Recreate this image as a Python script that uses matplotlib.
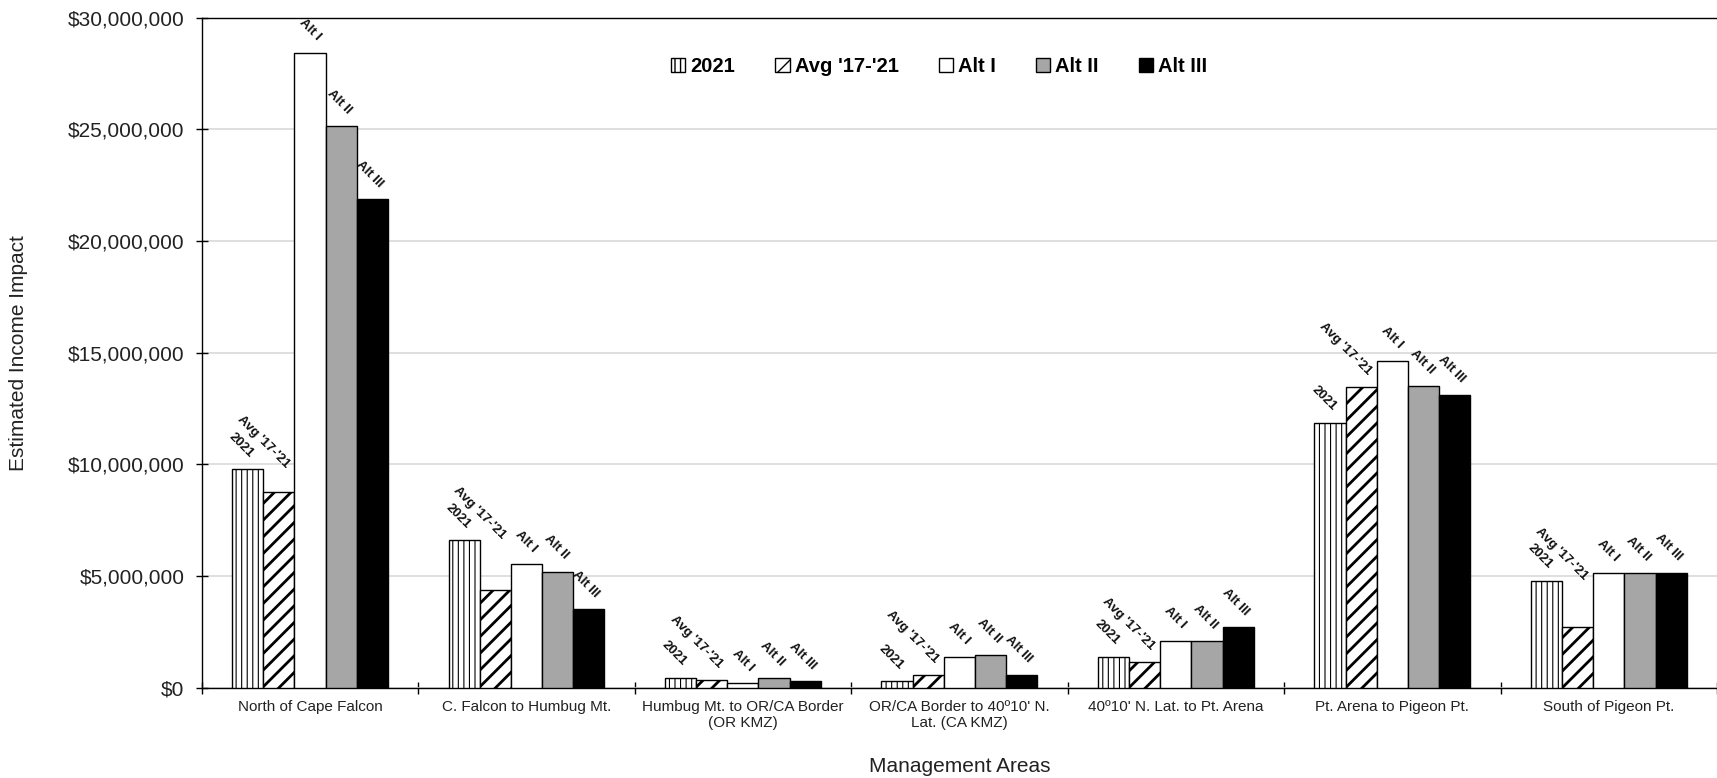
import numpy as np
import matplotlib
matplotlib.use("Agg")
import matplotlib.pyplot as plt
from matplotlib.ticker import FuncFormatter, FixedLocator

plt.rcParams['font.family'] = ['Liberation Sans', 'DejaVu Sans']

# Data
areas = ["North of Cape Falcon", "C. Falcon to Humbug Mt.",
         "Humbug Mt. to OR/CA Border\n(OR KMZ)",
         "OR/CA Border to 40º10' N.\nLat. (CA KMZ)",
         "40º10' N. Lat. to Pt. Arena", "Pt. Arena to Pigeon Pt.",
         "South of Pigeon Pt."]
series = ["2021", "Avg '17-'21", "Alt I", "Alt II", "Alt III"]
v2021 = [9.78e6, 6.60e6, 0.45e6, 0.28e6, 1.37e6, 11.85e6, 4.77e6]
vavg = [8.74e6, 4.38e6, 0.36e6, 0.58e6, 1.16e6, 13.45e6, 2.71e6]
valt1 = [28.42e6, 5.52e6, 0.20e6, 1.38e6, 2.10e6, 14.63e6, 5.13e6]
valt2 = [25.16e6, 5.20e6, 0.43e6, 1.46e6, 2.10e6, 13.52e6, 5.13e6]
valt3 = [21.86e6, 3.51e6, 0.28e6, 0.58e6, 2.71e6, 13.10e6, 5.13e6]
values = [v2021, vavg, valt1, valt2, valt3]

faces = ["white", "white", "white", "#a6a6a6", "black"]
hatches = ["|||", "//", None, None, None]
hatch_lw = [0.8, 2.0, 1.0, 1.0, 1.0]

fig = plt.figure(figsize=(17.17, 7.78), dpi=100)
ax = fig.add_axes([0.1175, 0.116, 0.8825, 0.8615])

x = np.arange(len(areas))
w = 0.144
for i, vals in enumerate(values):
    pos = x + (i - 2) * w
    bars = ax.bar(pos, vals, w, color=faces[i], edgecolor="black",
                  linewidth=1.0, hatch=hatches[i], label=series[i], zorder=3)
    for b in bars:
        if hasattr(b, "set_hatch_linewidth"):
            b.set_hatch_linewidth(hatch_lw[i])
    for k, (px, v) in enumerate(zip(pos, vals)):
        ly = v
        dx = 3
        if i == 0:
            dx = 0
        if i == 1:
            # avg label sits clear of the 2021 label
            ly = max(v, v2021[k] - 0.5e6)
        ax.annotate(series[i], (px, ly), xytext=(dx, 7), textcoords="offset points",
                    ha="right", va="bottom", rotation=-45, rotation_mode="anchor",
                    fontsize=9.5, fontweight="bold", color="#111111", zorder=4)

ax.set_xlim(-0.5, len(areas) - 0.5)
ax.set_ylim(0, 30e6)
ax.set_yticks(np.arange(0, 30e6 + 1, 5e6))
ax.yaxis.set_major_formatter(FuncFormatter(lambda v, p: "${:,.0f}".format(v)))
ax.grid(axis="y", color="#d9d9d9", linewidth=1.2, zorder=0)

ax.xaxis.set_major_locator(FixedLocator(np.arange(-0.5, len(areas), 1.0)))
ax.xaxis.set_minor_locator(FixedLocator(x))
ax.set_xticklabels([])
ax.set_xticklabels(areas, minor=True, fontsize=11, color="#222222")
ax.tick_params(axis="x", which="major", direction="inout", length=9, width=1)
ax.tick_params(axis="x", which="minor", length=0, pad=9)
ax.tick_params(axis="y", direction="inout", length=9, width=1, labelsize=15,
               pad=8, labelcolor="#222222")

ax.spines["right"].set_visible(False)
for s in ["left", "bottom", "top"]:
    ax.spines[s].set_linewidth(1.0)

ax.set_xlabel("Management Areas", fontsize=15, color="#222222", labelpad=19)
ax.set_ylabel("Estimated Income Impact", fontsize=15, color="#222222")
ax.yaxis.set_label_coords(-0.1145, 0.5)

leg = fig.legend(loc="center", bbox_to_anchor=(0.547, 0.915), ncol=5,
                 frameon=False, prop={"weight": "bold", "size": 14.5},
                 handlelength=0.7, handleheight=0.7, handletextpad=0.25,
                 columnspacing=2.0)

fig.savefig("out.png", dpi=100)
